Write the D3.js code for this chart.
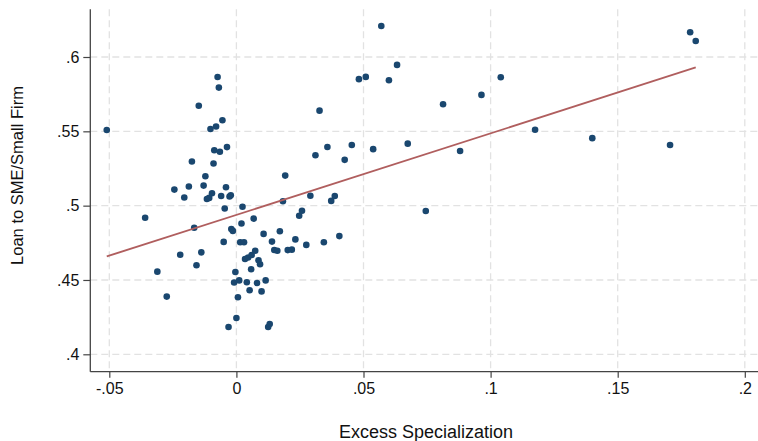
<!DOCTYPE html>
<html>
<head>
<meta charset="utf-8">
<script src="https://cdnjs.cloudflare.com/ajax/libs/d3/7.8.5/d3.min.js"></script>
<style>
  html, body { margin: 0; padding: 0; background: #fff; }
  svg { display: block; font-family: "Liberation Sans", Arial, Helvetica, sans-serif; }
</style>
</head>
<body>
<svg id="chart" width="758" height="441"></svg>
<script>
// Excess specialization (x) values
const excessSpec = [
  -0.0510, -0.0359, -0.0311, -0.0274, -0.0244, -0.0221, -0.0205, -0.0187, -0.0175, -0.0166,
  -0.0157, -0.0148, -0.0138, -0.0129, -0.0122, -0.0116, -0.0107, -0.0096, -0.0090, -0.0087,
  -0.0102, -0.0080, -0.0074, -0.0069, -0.0065, -0.0060, -0.0055, -0.0050, -0.0046, -0.0041,
  -0.0037, -0.0031, -0.0027, -0.0022, -0.0020, -0.0014, -0.0009, -0.0004, 0.0000, 0.0006,
  0.0011, 0.0015, 0.0020, 0.0024, 0.0030, 0.0034, 0.0041, 0.0046, 0.0052, 0.0060,
  0.0058, 0.0068, 0.0074, 0.0081, 0.0087, 0.0093, 0.0099, 0.0107, 0.0115, 0.0125,
  0.0131, 0.0140, 0.0149, 0.0161, 0.0171, 0.0183, 0.0192, 0.0202, 0.0218, 0.0232,
  0.0247, 0.0258, 0.0275, 0.0291, 0.0311, 0.0327, 0.0344, 0.0358, 0.0373, 0.0387,
  0.0405, 0.0426, 0.0454, 0.0482, 0.0509, 0.0538, 0.0570, 0.0600, 0.0632, 0.0674,
  0.0745, 0.0813, 0.0880, 0.0964, 0.1040, 0.1175, 0.1400, 0.1706, 0.1785, 0.1807
];
// Loan to SME/Small Firm (y) values
const loanSME = [
  0.5509, 0.4919, 0.4556, 0.4388, 0.5108, 0.4670, 0.5055, 0.5129, 0.5297, 0.4851,
  0.4599, 0.5672, 0.4686, 0.5135, 0.5198, 0.5045, 0.5052, 0.5083, 0.5284, 0.5373,
  0.5516, 0.5532, 0.5865, 0.5794, 0.5363, 0.5065, 0.5575, 0.4756, 0.4981, 0.5124,
  0.5394, 0.4184, 0.5062, 0.5070, 0.4843, 0.4830, 0.4483, 0.4554, 0.4244, 0.4384,
  0.4497, 0.4754, 0.4880, 0.4993, 0.4754, 0.4641, 0.4485, 0.4651, 0.4431, 0.4668,
  0.4572, 0.4913, 0.4697, 0.4480, 0.4633, 0.4606, 0.4423, 0.4810, 0.4497, 0.4184,
  0.4204, 0.4758, 0.4702, 0.4697, 0.4828, 0.5030, 0.5202, 0.4701, 0.4704, 0.4773,
  0.4932, 0.4966, 0.4736, 0.5067, 0.5339, 0.5639, 0.4754, 0.5395, 0.5032, 0.5065,
  0.4795, 0.5308, 0.5408, 0.5851, 0.5866, 0.5380, 0.6209, 0.5844, 0.5947, 0.5417,
  0.4964, 0.5682, 0.5368, 0.5745, 0.5864, 0.5511, 0.5454, 0.5408, 0.6167, 0.6108
];
// Linear fit
const fitIntercept = 0.4938;
const fitSlope = 0.5487;

const xTicks = [-0.05, 0, 0.05, 0.1, 0.15, 0.2];
const xTickLabels = ["-.05", "0", ".05", ".1", ".15", ".2"];
const yTicks = [0.4, 0.45, 0.5, 0.55, 0.6];
const yTickLabels = [".4", ".45", ".5", ".55", ".6"];
const xTitle = "Excess Specialization";
const yTitle = "Loan to SME/Small Firm";

const svg = d3.select("#chart");
const plot = { left: 90.3, right: 758, top: 9.3, bottom: 371.7 };

const x = d3.scaleLinear().domain([-0.05, 0.2]).range([109.3, 744.8]);
const y = d3.scaleLinear().domain([0.4, 0.6]).range([354.3, 57]);

const gridColor = "#e2e2e2";
// Grid
svg.append("g").selectAll("line.hg").data(yTicks).join("line")
  .attr("x1", plot.left).attr("x2", plot.right)
  .attr("y1", d => y(d)).attr("y2", d => y(d))
  .attr("stroke", gridColor).attr("stroke-width", 1.3).attr("stroke-dasharray", "7,4");
svg.append("g").selectAll("line.vg").data(xTicks).join("line")
  .attr("y1", plot.top).attr("y2", plot.bottom)
  .attr("x1", d => x(d)).attr("x2", d => x(d))
  .attr("stroke", gridColor).attr("stroke-width", 1.3).attr("stroke-dasharray", "7,4");

// Axes
const axisColor = "#444";
const xAxis = d3.axisBottom(x).tickValues(xTicks)
  .tickFormat((d, i) => xTickLabels[i]).tickSize(6).tickSizeOuter(0).tickPadding(5);
const gx = svg.append("g").attr("transform", `translate(0,${plot.bottom})`).call(xAxis);
gx.select(".domain").remove();
gx.selectAll(".tick line").attr("stroke", axisColor).attr("stroke-width", 1.2);
gx.selectAll(".tick text").attr("font-size", 16).attr("fill", "#111")
  .attr("font-family", "Liberation Sans, Arial, sans-serif");
svg.append("line").attr("x1", plot.left).attr("x2", plot.right)
  .attr("y1", plot.bottom).attr("y2", plot.bottom)
  .attr("stroke", axisColor).attr("stroke-width", 1.3);

const yAxis = d3.axisLeft(y).tickValues(yTicks)
  .tickFormat((d, i) => yTickLabels[i]).tickSize(7).tickSizeOuter(0).tickPadding(4);
const gy = svg.append("g").attr("transform", `translate(${plot.left},0)`).call(yAxis);
gy.select(".domain").remove();
gy.selectAll(".tick line").attr("stroke", axisColor).attr("stroke-width", 1.2);
gy.selectAll(".tick text").attr("font-size", 16).attr("fill", "#111")
  .attr("font-family", "Liberation Sans, Arial, sans-serif");
svg.append("line").attr("x1", plot.left).attr("x2", plot.left)
  .attr("y1", plot.top).attr("y2", plot.bottom)
  .attr("stroke", axisColor).attr("stroke-width", 1.3);

// Points
const pts = excessSpec.map((v, i) => ({ x: v, y: loanSME[i] }));
svg.append("g").selectAll("circle").data(pts).join("circle")
  .attr("cx", d => x(d.x)).attr("cy", d => y(d.y)).attr("r", 3.3)
  .attr("fill", "#1a476f");

// Fit line
const xMin = d3.min(excessSpec), xMax = d3.max(excessSpec);
const fitPts = [xMin, xMax].map(v => [v, fitIntercept + fitSlope * v]);
svg.append("path")
  .attr("d", d3.line().x(d => x(d[0])).y(d => y(d[1]))(fitPts))
  .attr("fill", "none").attr("stroke", "#b05e5e").attr("stroke-width", 1.8);

// Titles
svg.append("text").attr("x", 426).attr("y", 438)
  .attr("text-anchor", "middle").attr("font-size", 18).attr("fill", "#111")
  .text(xTitle);
svg.append("text").attr("transform", "translate(23,175.5) rotate(-90)")
  .attr("text-anchor", "middle").attr("font-size", 16.5).attr("fill", "#111")
  .text(yTitle);
</script>
</body>
</html>
